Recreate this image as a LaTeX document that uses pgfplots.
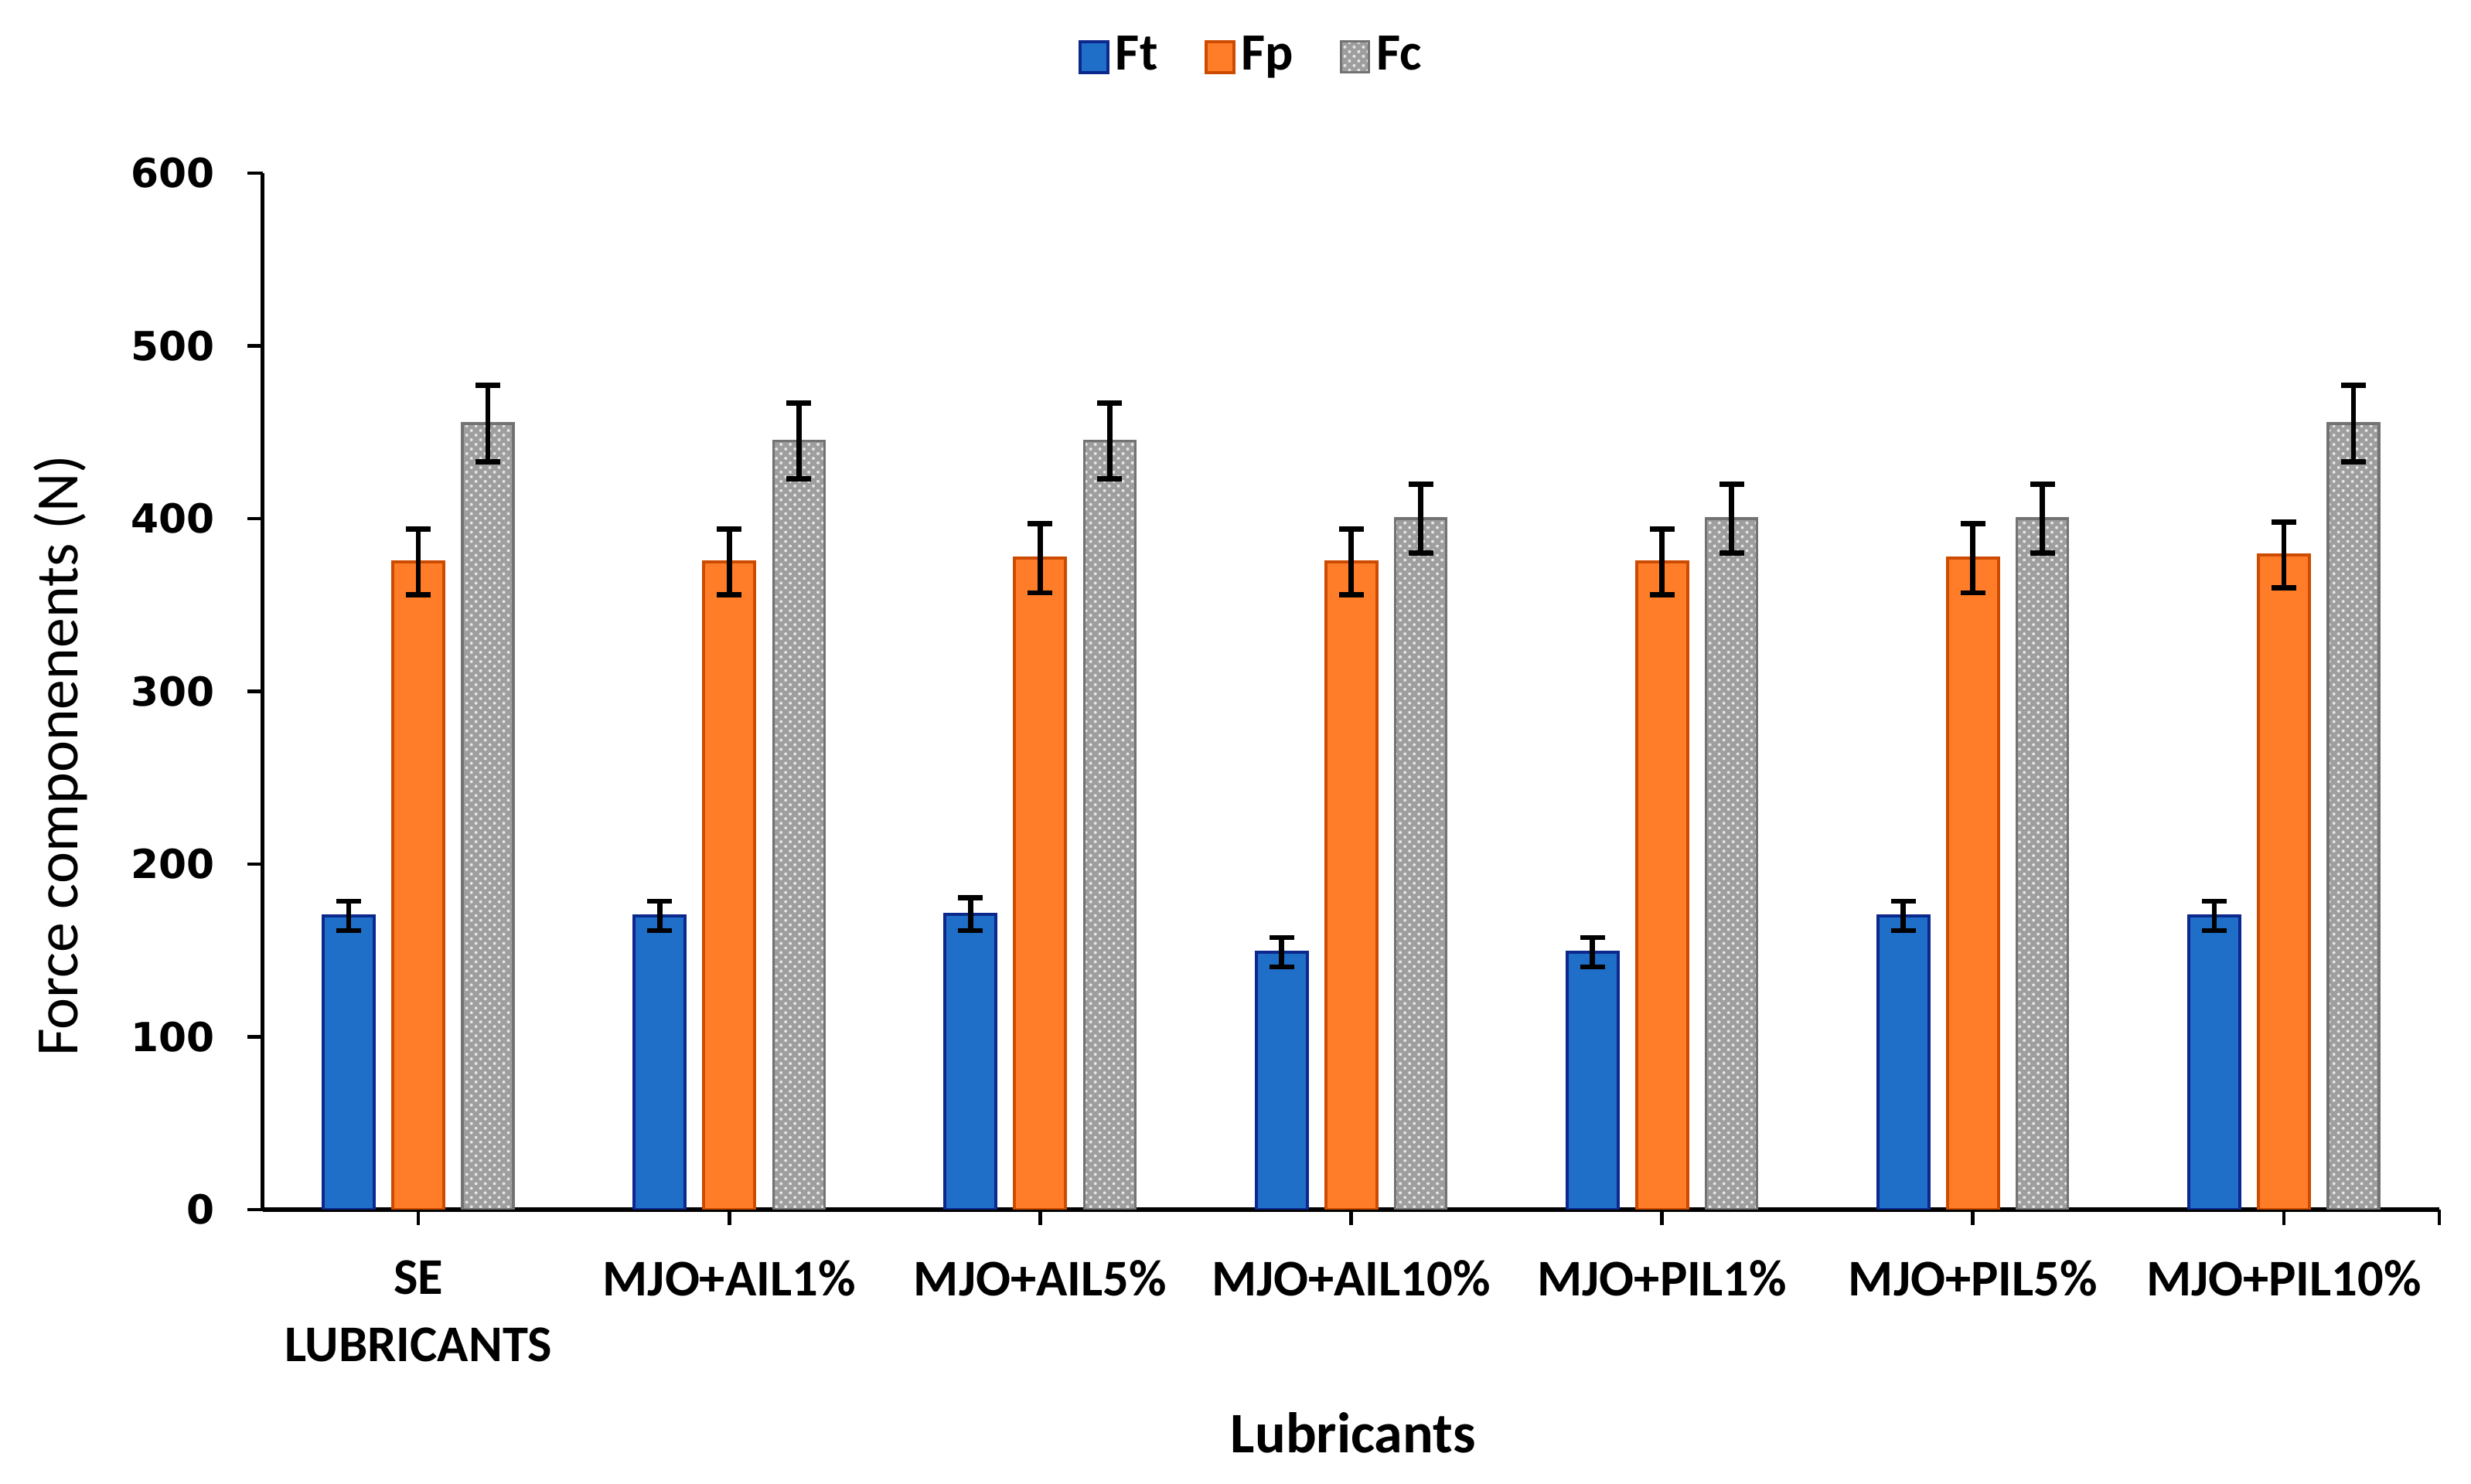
\documentclass[border=0pt]{standalone}
\usepackage{fontspec}
\setmainfont{Carlito}
\newfontfamily\dejavu{DejaVu Sans}
\usepackage{pgfplots}
\pgfplotsset{compat=1.18}
\usepackage{pgfplotstable}
\usetikzlibrary{patterns}

\definecolor{ftblue}{RGB}{31,110,200}
\definecolor{ftedge}{RGB}{12,40,140}
\definecolor{fporange}{RGB}{255,125,40}
\definecolor{fpedge}{RGB}{205,75,0}
\definecolor{fcgray}{RGB}{158,158,158}
\definecolor{fcedge}{RGB}{115,115,115}

% force components per lubricant, error = about 5 %
\pgfplotstableread{
x ft fterr fp fperr fc fcerr
0 170 8.5 375 19 455 22
1 170 8.5 375 19 445 22
2 171 9.5 377 20 445 22
3 149 8.5 375 19 400 20
4 149 8.5 375 19 400 20
5 170 8.5 377 20 400 20
6 170 8.5 379 19 455 22
}\forces

\pgfplotsset{
  boxlegend/.style={legend image code/.code={\draw[##1] (0bp,-5.5bp) rectangle (9bp,4.5bp);}},
  errs/.style={error bars/.cd, y dir=both, y explicit,
    error bar style={black, line width=1.7bp},
    error mark options={black, rotate=90, mark size=4bp, line width=1.7bp}},
}

\begin{document}
\begin{tikzpicture}
\begin{axis}[
  scale only axis, width=703.75bp, height=335.25bp,
  xmin=-0.5, xmax=6.5, ymin=0, ymax=600,
  axis lines=left, axis line style={-, black},
  x axis line style={line width=1.7bp},
  y axis line style={line width=1.25bp},
  tick align=outside, major tick length=5bp,
  tick style={black, line width=1.2bp},
  ytick={0,100,...,600},
  xtick={0,...,6},
  xticklabels={{SE\\LUBRICANTS}, MJO+AIL1\%, MJO+AIL5\%, MJO+AIL10\%, MJO+PIL1\%, MJO+PIL5\%, MJO+PIL10\%},
  extra x ticks={6.5}, extra x tick labels={},
  xticklabel style={align=center, yshift=-8bp, font=\bfseries\fontsize{16.7}{21.75}\selectfont},
  yticklabel style={xshift=-7bp, font=\dejavu\bfseries\fontsize{13}{15}\selectfont},
  /pgf/number format/assume math mode=true,
  ylabel={Force componenents (N)},
  ylabel style={at={(axis description cs:-0.093,0.438)}, anchor=center, font=\fontsize{19.5}{22}\selectfont},
  xlabel={Lubricants},
  xlabel style={at={(axis description cs:0.501,-0.2155)}, anchor=center, font=\bfseries\fontsize{18.6}{22}\selectfont},
  legend style={at={(axis description cs:0.455,1.1135)}, anchor=center, draw=none,
    font=\bfseries\fontsize{17}{20}\selectfont,
    /tikz/every even column/.append style={column sep=13bp}},
  legend columns=-1,
]
\addplot[ybar, boxlegend, bar width=16.5bp, bar shift=0bp, fill=ftblue, draw=ftedge, line width=1bp, errs]
  table[x expr=\thisrow{x}-0.2238, y=ft, y error=fterr]{\forces};
\addplot[ybar, boxlegend, bar width=16.5bp, bar shift=0bp, fill=fporange, draw=fpedge, line width=1bp, errs]
  table[x=x, y=fp, y error=fperr]{\forces};
\addplot[ybar, boxlegend, bar width=16.5bp, bar shift=0bp, fill=fcgray, draw=fcedge, line width=0.8bp,
  postaction={pattern=crosshatch dots, pattern color=white!80!gray}, errs]
  table[x expr=\thisrow{x}+0.2238, y=fc, y error=fcerr]{\forces};
\legend{Ft, Fp, Fc}
\coordinate (bl) at (rel axis cs:0,0);
\coordinate (tr) at (rel axis cs:1,1);
\end{axis}
\path ([xshift=-85bp,yshift=-88.75bp]bl) rectangle ([xshift=10.25bp,yshift=56bp]tr);
\end{tikzpicture}
\end{document}
